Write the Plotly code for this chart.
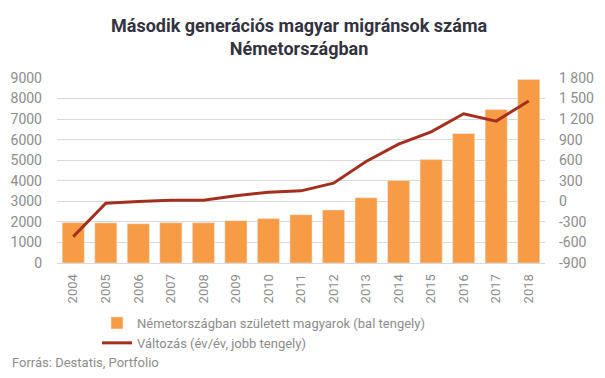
import plotly.graph_objects as go

years = ["2004", "2005", "2006", "2007", "2008", "2009", "2010", "2011",
         "2012", "2013", "2014", "2015", "2016", "2017", "2018"]
born = [1965, 1950, 1910, 1960, 1960, 2060, 2160, 2350,
        2580, 3180, 4010, 5030, 6300, 7470, 8930]
change = [-515, -28, -3, 16, 16, 80, 133, 153,
          265, 581, 835, 1015, 1278, 1171, 1464]
left_ticks = [0, 1000, 2000, 3000, 4000, 5000, 6000, 7000, 8000, 9000]
right_ticks = [-900, -600, -300, 0, 300, 600, 900, 1200, 1500, 1800]
right_labels = ["-900", "-600", "-300", "0", "300", "600", "900", "1 200", "1 500", "1 800"]

title_text = "Második generációs magyar migránsok száma<br>Németországban"
bar_name = "Németországban született magyarok (bal tengely)"
line_name = "Változás (év/év, jobb tengely)"
source = "Forrás: Destatis, Portfolio"

gray = "#8c8c8c"
fig = go.Figure()
fig.add_trace(go.Bar(x=years, y=born, name=bar_name, marker_color="#F79C45",
                     yaxis="y"))
fig.add_trace(go.Scatter(x=years, y=change, name=line_name, mode="lines",
                         line=dict(color="#A3301F", width=3), yaxis="y2"))

fig.update_layout(
    width=597, height=370,
    margin=dict(l=49, r=60, t=70, b=115, autoexpand=False),
    plot_bgcolor="white", paper_bgcolor="white",
    font=dict(family="Roboto", size=13, color=gray),
    bargap=0.32,
    xaxis=dict(tickangle=-90, showgrid=False, linecolor="#d9d9d9",
               tickfont=dict(size=13, color=gray), ticks="", ticklabelstandoff=5),
    yaxis=dict(range=[0, 9000], tickvals=left_ticks, gridcolor="#d9d9d9",
               zeroline=False, ticklabelstandoff=14,
               tickfont=dict(size=14, color=gray)),
    yaxis2=dict(range=[-900, 1800], tickvals=right_ticks, ticktext=right_labels,
                overlaying="y", side="right", showgrid=False, zeroline=False,
                ticklabelstandoff=13, tickfont=dict(size=14, color=gray)),
    legend=dict(orientation="v", x=40/488, y=-45/185, xanchor="left", yanchor="top",
                font=dict(size=13, color=gray), tracegroupgap=0,
                itemwidth=30),
    showlegend=True,
    annotations=[
        dict(text="<b>" + title_text + "</b>", xref="paper", yref="paper",
             x=(290.5 - 49) / 488, y=(255 - 28.5) / 185, xanchor="center",
             yanchor="middle", showarrow=False,
             font=dict(family="Roboto", size=18, color="#333340")),
        dict(text=source, xref="paper", yref="paper",
             x=-47/488, y=-99/185, xanchor="left", yanchor="middle",
             showarrow=False, font=dict(size=13, color=gray)),
    ],
)
fig.write_html("out.html")
